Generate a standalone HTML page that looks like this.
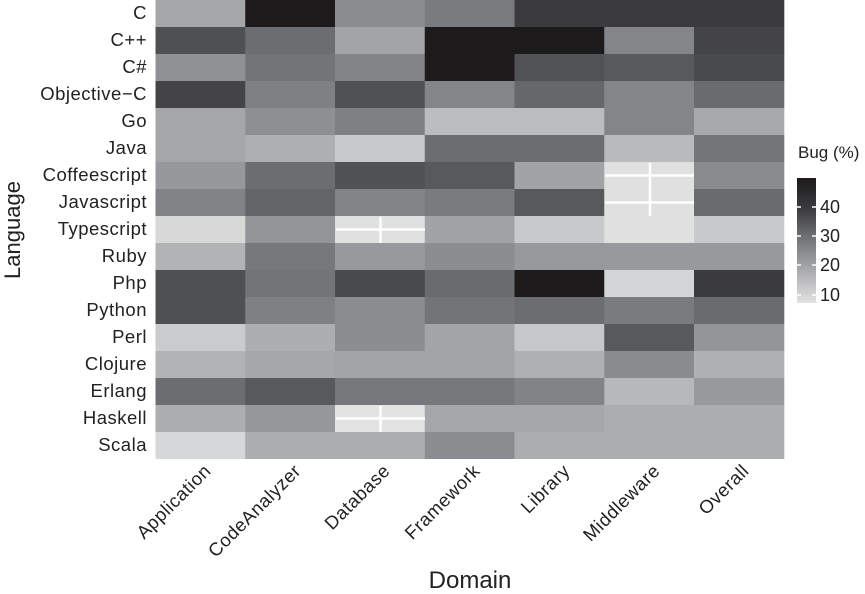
<!DOCTYPE html>
<html><head><meta charset="utf-8"><style>
html,body{margin:0;padding:0;background:#fff;}
svg{display:block;font-family:"Liberation Sans",sans-serif;}
</style></head><body>
<svg width="865" height="594" xmlns="http://www.w3.org/2000/svg">
<defs>
<linearGradient id="g" x1="0" y1="0" x2="0" y2="1">
<stop offset="0" stop-color="#1c1a1b"/>
<stop offset="0.25" stop-color="#3c3c3e"/>
<stop offset="0.5" stop-color="#76777a"/>
<stop offset="0.75" stop-color="#acadaf"/>
<stop offset="1" stop-color="#e2e2e3"/>
</linearGradient>
</defs>
<g transform="translate(0,0)"><rect x="155.5" width="90.3" height="27.6" fill="#a5a6a8"/><rect x="245.25" width="90.3" height="27.6" fill="#1c1a1b"/><rect x="335" width="90.3" height="27.6" fill="#8c8d90"/><rect x="424.75" width="90.3" height="27.6" fill="#7a7b7e"/><rect x="514.5" width="90.3" height="27.6" fill="#3b3b3d"/><rect x="604.25" width="90.3" height="27.6" fill="#3b3b3d"/><rect x="694" width="90.3" height="27.6" fill="#3b3b3d"/></g>
<g transform="translate(0,27)"><rect x="155.5" width="90.3" height="27.6" fill="#4f5052"/><rect x="245.25" width="90.3" height="27.6" fill="#6c6d70"/><rect x="335" width="90.3" height="27.6" fill="#a3a4a6"/><rect x="424.75" width="90.3" height="27.6" fill="#1c1a1b"/><rect x="514.5" width="90.3" height="27.6" fill="#1c1a1b"/><rect x="604.25" width="90.3" height="27.6" fill="#848588"/><rect x="694" width="90.3" height="27.6" fill="#444446"/></g>
<g transform="translate(0,54)"><rect x="155.5" width="90.3" height="27.6" fill="#909194"/><rect x="245.25" width="90.3" height="27.6" fill="#737477"/><rect x="335" width="90.3" height="27.6" fill="#838487"/><rect x="424.75" width="90.3" height="27.6" fill="#1c1a1b"/><rect x="514.5" width="90.3" height="27.6" fill="#515254"/><rect x="604.25" width="90.3" height="27.6" fill="#58595b"/><rect x="694" width="90.3" height="27.6" fill="#4a4b4d"/></g>
<g transform="translate(0,81)"><rect x="155.5" width="90.3" height="27.6" fill="#444446"/><rect x="245.25" width="90.3" height="27.6" fill="#7f8083"/><rect x="335" width="90.3" height="27.6" fill="#505153"/><rect x="424.75" width="90.3" height="27.6" fill="#848588"/><rect x="514.5" width="90.3" height="27.6" fill="#66676a"/><rect x="604.25" width="90.3" height="27.6" fill="#848588"/><rect x="694" width="90.3" height="27.6" fill="#6a6b6e"/></g>
<g transform="translate(0,108)"><rect x="155.5" width="90.3" height="27.6" fill="#a5a6a8"/><rect x="245.25" width="90.3" height="27.6" fill="#8e8f92"/><rect x="335" width="90.3" height="27.6" fill="#7f8083"/><rect x="424.75" width="90.3" height="27.6" fill="#bbbcbe"/><rect x="514.5" width="90.3" height="27.6" fill="#bbbcbe"/><rect x="604.25" width="90.3" height="27.6" fill="#848588"/><rect x="694" width="90.3" height="27.6" fill="#a8a9ab"/></g>
<g transform="translate(0,135)"><rect x="155.5" width="90.3" height="27.6" fill="#a5a6a8"/><rect x="245.25" width="90.3" height="27.6" fill="#aeafb1"/><rect x="335" width="90.3" height="27.6" fill="#c8c9cb"/><rect x="424.75" width="90.3" height="27.6" fill="#6c6d70"/><rect x="514.5" width="90.3" height="27.6" fill="#6c6d70"/><rect x="604.25" width="90.3" height="27.6" fill="#b9babc"/><rect x="694" width="90.3" height="27.6" fill="#747578"/></g>
<g transform="translate(0,162)"><rect x="155.5" width="90.3" height="27.6" fill="#97989b"/><rect x="245.25" width="90.3" height="27.6" fill="#6c6d70"/><rect x="335" width="90.3" height="27.6" fill="#505153"/><rect x="424.75" width="90.3" height="27.6" fill="#58595b"/><rect x="514.5" width="90.3" height="27.6" fill="#a2a3a5"/><rect x="604.25" width="90.3" height="27.6" fill="#e0e0e1"/><rect x="694" width="90.3" height="27.6" fill="#8a8b8e"/></g>
<g transform="translate(0,189)"><rect x="155.5" width="90.3" height="27.6" fill="#828386"/><rect x="245.25" width="90.3" height="27.6" fill="#636467"/><rect x="335" width="90.3" height="27.6" fill="#838487"/><rect x="424.75" width="90.3" height="27.6" fill="#7a7b7e"/><rect x="514.5" width="90.3" height="27.6" fill="#58595b"/><rect x="604.25" width="90.3" height="27.6" fill="#e0e0e1"/><rect x="694" width="90.3" height="27.6" fill="#6a6b6e"/></g>
<g transform="translate(0,216)"><rect x="155.5" width="90.3" height="27.6" fill="#d8d8d9"/><rect x="245.25" width="90.3" height="27.6" fill="#949598"/><rect x="335" width="90.3" height="27.6" fill="#e0e0e1"/><rect x="424.75" width="90.3" height="27.6" fill="#a2a3a5"/><rect x="514.5" width="90.3" height="27.6" fill="#c8c9cb"/><rect x="604.25" width="90.3" height="27.6" fill="#e0e0e1"/><rect x="694" width="90.3" height="27.6" fill="#c8c9cb"/></g>
<g transform="translate(0,243)"><rect x="155.5" width="90.3" height="27.6" fill="#b2b3b5"/><rect x="245.25" width="90.3" height="27.6" fill="#77787b"/><rect x="335" width="90.3" height="27.6" fill="#98999c"/><rect x="424.75" width="90.3" height="27.6" fill="#8c8d90"/><rect x="514.5" width="90.3" height="27.6" fill="#98999c"/><rect x="604.25" width="90.3" height="27.6" fill="#98999c"/><rect x="694" width="90.3" height="27.6" fill="#98999c"/></g>
<g transform="translate(0,270)"><rect x="155.5" width="90.3" height="27.6" fill="#4f5052"/><rect x="245.25" width="90.3" height="27.6" fill="#737477"/><rect x="335" width="90.3" height="27.6" fill="#4a4b4d"/><rect x="424.75" width="90.3" height="27.6" fill="#6a6b6e"/><rect x="514.5" width="90.3" height="27.6" fill="#1c1a1b"/><rect x="604.25" width="90.3" height="27.6" fill="#d4d5d6"/><rect x="694" width="90.3" height="27.6" fill="#3b3b3d"/></g>
<g transform="translate(0,297)"><rect x="155.5" width="90.3" height="27.6" fill="#4f5052"/><rect x="245.25" width="90.3" height="27.6" fill="#7f8083"/><rect x="335" width="90.3" height="27.6" fill="#8c8d90"/><rect x="424.75" width="90.3" height="27.6" fill="#737477"/><rect x="514.5" width="90.3" height="27.6" fill="#6c6d70"/><rect x="604.25" width="90.3" height="27.6" fill="#7a7b7e"/><rect x="694" width="90.3" height="27.6" fill="#6a6b6e"/></g>
<g transform="translate(0,324)"><rect x="155.5" width="90.3" height="27.6" fill="#cacbcd"/><rect x="245.25" width="90.3" height="27.6" fill="#adaeb0"/><rect x="335" width="90.3" height="27.6" fill="#8c8d90"/><rect x="424.75" width="90.3" height="27.6" fill="#a3a4a6"/><rect x="514.5" width="90.3" height="27.6" fill="#c6c7c9"/><rect x="604.25" width="90.3" height="27.6" fill="#58595b"/><rect x="694" width="90.3" height="27.6" fill="#949598"/></g>
<g transform="translate(0,351)"><rect x="155.5" width="90.3" height="27.6" fill="#b2b3b5"/><rect x="245.25" width="90.3" height="27.6" fill="#a6a7a9"/><rect x="335" width="90.3" height="27.6" fill="#a3a4a6"/><rect x="424.75" width="90.3" height="27.6" fill="#a3a4a6"/><rect x="514.5" width="90.3" height="27.6" fill="#afb0b2"/><rect x="604.25" width="90.3" height="27.6" fill="#8a8b8e"/><rect x="694" width="90.3" height="27.6" fill="#afb0b2"/></g>
<g transform="translate(0,378)"><rect x="155.5" width="90.3" height="27.6" fill="#6c6d70"/><rect x="245.25" width="90.3" height="27.6" fill="#58595b"/><rect x="335" width="90.3" height="27.6" fill="#77787b"/><rect x="424.75" width="90.3" height="27.6" fill="#77787b"/><rect x="514.5" width="90.3" height="27.6" fill="#828386"/><rect x="604.25" width="90.3" height="27.6" fill="#b7b8ba"/><rect x="694" width="90.3" height="27.6" fill="#98999c"/></g>
<g transform="translate(0,405)"><rect x="155.5" width="90.3" height="27.6" fill="#adaeb0"/><rect x="245.25" width="90.3" height="27.6" fill="#97989b"/><rect x="335" width="90.3" height="27.6" fill="#e3e3e4"/><rect x="424.75" width="90.3" height="27.6" fill="#a6a7a9"/><rect x="514.5" width="90.3" height="27.6" fill="#a6a7a9"/><rect x="604.25" width="90.3" height="27.6" fill="#acadaf"/><rect x="694" width="90.3" height="27.6" fill="#acadaf"/></g>
<g transform="translate(0,432)"><rect x="155.5" width="90.3" height="27" fill="#d6d7d8"/><rect x="245.25" width="90.3" height="27" fill="#adaeb0"/><rect x="335" width="90.3" height="27" fill="#adaeb0"/><rect x="424.75" width="90.3" height="27" fill="#8c8d90"/><rect x="514.5" width="90.3" height="27" fill="#acadaf"/><rect x="604.25" width="90.3" height="27" fill="#acadaf"/><rect x="694" width="90.3" height="27" fill="#acadaf"/></g>
<g stroke="#fff" stroke-width="2.5">
<line x1="650" y1="163" x2="650" y2="216"/>
<line x1="605" y1="175.5" x2="694" y2="175.5"/>
<line x1="605" y1="202.5" x2="694" y2="202.5"/>
<line x1="380.5" y1="217" x2="380.5" y2="243"/>
<line x1="336" y1="229.5" x2="425" y2="229.5"/>
<line x1="380.5" y1="406" x2="380.5" y2="432"/>
<line x1="336" y1="418.5" x2="425" y2="418.5"/>
</g>
<g font-size="18.5" letter-spacing="0.5" fill="#222" text-anchor="end">
<text x="147" y="19">C</text>
<text x="147" y="46">C++</text>
<text x="147" y="73">C#</text>
<text x="147" y="100">Objective−C</text>
<text x="147" y="127">Go</text>
<text x="147" y="154">Java</text>
<text x="147" y="181">Coffeescript</text>
<text x="147" y="208">Javascript</text>
<text x="147" y="235">Typescript</text>
<text x="147" y="262">Ruby</text>
<text x="147" y="289">Php</text>
<text x="147" y="316">Python</text>
<text x="147" y="343">Perl</text>
<text x="147" y="370">Clojure</text>
<text x="147" y="397">Erlang</text>
<text x="147" y="424">Haskell</text>
<text x="147" y="451">Scala</text>
</g>
<g font-size="18.5" letter-spacing="0.5" fill="#222" text-anchor="end">
<text transform="translate(212,472) rotate(-45)">Application</text>
<text transform="translate(302,472) rotate(-45)">CodeAnalyzer</text>
<text transform="translate(391,472) rotate(-45)">Database</text>
<text transform="translate(481,472) rotate(-45)">Framework</text>
<text transform="translate(571,472) rotate(-45)">Library</text>
<text transform="translate(661,472) rotate(-45)">Middleware</text>
<text transform="translate(750,472) rotate(-45)">Overall</text>
</g>
<text x="470" y="588" font-size="24" fill="#222" text-anchor="middle">Domain</text>
<text transform="translate(20,230) rotate(-90)" font-size="22" fill="#222" text-anchor="middle">Language</text>
<text x="798" y="158" font-size="17" fill="#222">Bug (%)</text>
<rect x="797" y="178" width="19" height="125" fill="url(#g)"/>
<g stroke="#fff" stroke-width="1.5">
<line x1="797" y1="207" x2="801" y2="207"/><line x1="812" y1="207" x2="816" y2="207"/>
<line x1="797" y1="236" x2="801" y2="236"/><line x1="812" y1="236" x2="816" y2="236"/>
<line x1="797" y1="265" x2="801" y2="265"/><line x1="812" y1="265" x2="816" y2="265"/>
<line x1="797" y1="295" x2="801" y2="295"/><line x1="812" y1="295" x2="816" y2="295"/>
</g>
<g font-size="18" fill="#222">
<text x="820" y="213">40</text>
<text x="820" y="242">30</text>
<text x="820" y="271">20</text>
<text x="820" y="301">10</text>
</g>
</svg>
</body></html>
